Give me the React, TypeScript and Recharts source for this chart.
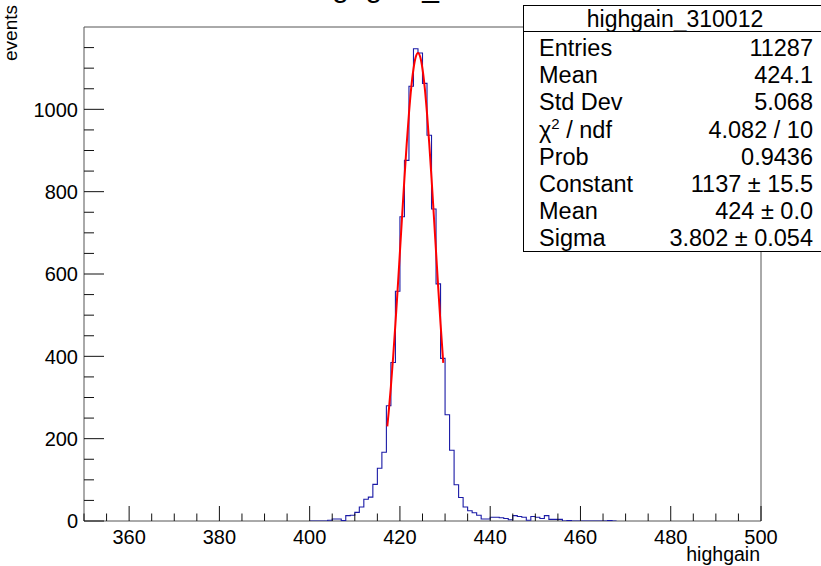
import React from "react";
import { ComposedChart, Line, XAxis, YAxis, ReferenceArea } from "recharts";

const FONT = "'Liberation Sans', Arial, Helvetica, sans-serif";

// highgain histogram, 1-unit bins starting at 400 (everything else is empty)
const BIN_START = 400;
const counts = [
  0, 0, 0, 0, 2, 5, 5, 1, 13, 14, // 400-409
  21, 34, 53, 58, 89, 128, 167, 280, 385, 558, // 410-419
  739, 876, 1056, 1147, 1137, 1063, 937, 758, 576, 395, // 420-429
  258, 172, 88, 57, 34, 25, 20, 14, 5, 5, // 430-439
  9, 9, 8, 6, 3, 13, 11, 9, 2, 11, // 440-449
  9, 6, 13, 4, 4, 4, 0, 1, 0, 0, // 450-459
  0, 0, 0, 0, 0, 0, 1, 0, // 460-467
];

// gaus fit, points
const fitX = [
  417.2, 417.5, 418, 418.5, 419, 419.5, 420, 420.5, 421, 421.5, 422, 422.5, 423,
  423.5, 424, 424.5, 425, 425.5, 426, 426.5, 427, 427.5, 428, 428.5, 429, 429.6,
];
const fitY = [
  230, 264, 327, 399, 479, 564, 654, 744, 833, 916, 990, 1052, 1098,
  1127, 1137, 1127, 1098, 1052, 990, 916, 833, 744, 654, 564, 479, 384,
];

const xTicks = Array.from({ length: 31 }, (_, i) => 350 + i * 5);
const yTicks = Array.from({ length: 24 }, (_, i) => i * 50);

const statLabels = ["Entries", "Mean", "Std Dev", "chi2", "Prob", "Constant", "Mean", "Sigma"];
const statValues = ["11287", "424.1", "5.068", "4.082 / 10", "0.9436", "1137 \u00b1 15.5", "424 \u00b1 0.0", "3.802 \u00b1 0.054"];

const histData = counts
  .map((c, i) => ({ x: BIN_START + i, h: c }))
  .concat([{ x: BIN_START + counts.length, h: 0 }]);
const fitData = fitX.map((x, i) => ({ x, f: fitY[i] }));

const XTick = (props: any) => {
  const { x, y, payload } = props;
  const v = payload.value;
  const major = v % 20 === 0;
  return (
    <g>
      <line x1={x} y1={y} x2={x} y2={y - (major ? 15 : 7.5)} stroke="#111" />
      {major && (
        <text x={x} y={y + 23} textAnchor="middle" fontSize={20} fontFamily={FONT} fill="#000">
          {v}
        </text>
      )}
    </g>
  );
};

const YTick = (props: any) => {
  const { x, y, payload } = props;
  const v = payload.value;
  const major = v % 200 === 0;
  return (
    <g>
      <line x1={x} y1={y} x2={x + (major ? 20 : 10)} y2={y} stroke="#111" />
      {major && (
        <text x={x - 6} y={y} dy="0.36em" textAnchor="end" fontSize={20} fontFamily={FONT} fill="#000">
          {v}
        </text>
      )}
    </g>
  );
};

function StatsBox() {
  const left = 523.5;
  const top = 5.5;
  const rowH = 27.2;
  return (
    <g fontFamily={FONT} fill="#000">
      <rect x={left} y={top} width={320} height={246} fill="#fff" stroke="#000" strokeWidth={1} />
      <line x1={left} y1={31.5} x2={821} y2={31.5} stroke="#000" />
      <text x={675} y={26.5} textAnchor="middle" fontSize={23}>
        highgain_310012
      </text>
      {statLabels.map((lab, i) => {
        const y = 56 + i * rowH;
        return (
          <g key={i}>
            <text x={539} y={y} fontSize={23.5}>
              {lab === "chi2" ? (
                <>
                  <tspan>{"\u03c7"}</tspan>
                  <tspan dy={-9} fontSize={15}>2</tspan>
                  <tspan dy={9}>{" / ndf"}</tspan>
                </>
              ) : (
                lab
              )}
            </text>
            <text x={813} y={y} fontSize={23.5} textAnchor="end">
              {statValues[i]}
            </text>
          </g>
        );
      })}
    </g>
  );
}

export default function App() {
  return (
    <div style={{ position: "absolute", left: 0, top: 0, width: 821, height: 566, background: "#fff" }}>
      <ComposedChart width={821} height={566} margin={{ top: 27, right: 60, bottom: 0, left: 0 }}>
        <XAxis
          type="number"
          dataKey="x"
          domain={[350, 500]}
          ticks={xTicks}
          interval={0}
          allowDataOverflow
          axisLine={false}
          tickLine={false}
          tickSize={0}
          tickMargin={0}
          height={45}
          tick={<XTick />}
        />
        <YAxis
          type="number"
          domain={[0, 1200]}
          ticks={yTicks}
          interval={0}
          allowDataOverflow
          axisLine={false}
          tickLine={false}
          tickSize={0}
          tickMargin={0}
          width={84}
          tick={<YTick />}
        />
        <ReferenceArea x1={350} x2={500} y1={0} y2={1200} fill="none" stroke="#555" strokeWidth={1} />
        <Line
          data={histData}
          dataKey="h"
          type="stepAfter"
          stroke="#1a1aa6"
          strokeWidth={1.1}
          dot={false}
          isAnimationActive={false}
        />
        <Line
          data={fitData}
          dataKey="f"
          type="monotone"
          stroke="#ff0000"
          strokeWidth={2}
          dot={false}
          isAnimationActive={false}
        />
      </ComposedChart>
      <svg
        width={821}
        height={566}
        style={{ position: "absolute", left: 0, top: 0, pointerEvents: "none" }}
      >
        <text x={424} y={-3} textAnchor="middle" fontSize={30} fontFamily={FONT} fill="#000">
          highgain_310012
        </text>
        <text
          transform="translate(17,5) rotate(-90)"
          textAnchor="end"
          fontSize={19}
          fontFamily={FONT}
          fill="#000"
        >
          events
        </text>
        <text x={760} y={561} textAnchor="end" fontSize={19.5} fontFamily={FONT} fill="#000">
          highgain
        </text>
        <StatsBox />
      </svg>
    </div>
  );
}
